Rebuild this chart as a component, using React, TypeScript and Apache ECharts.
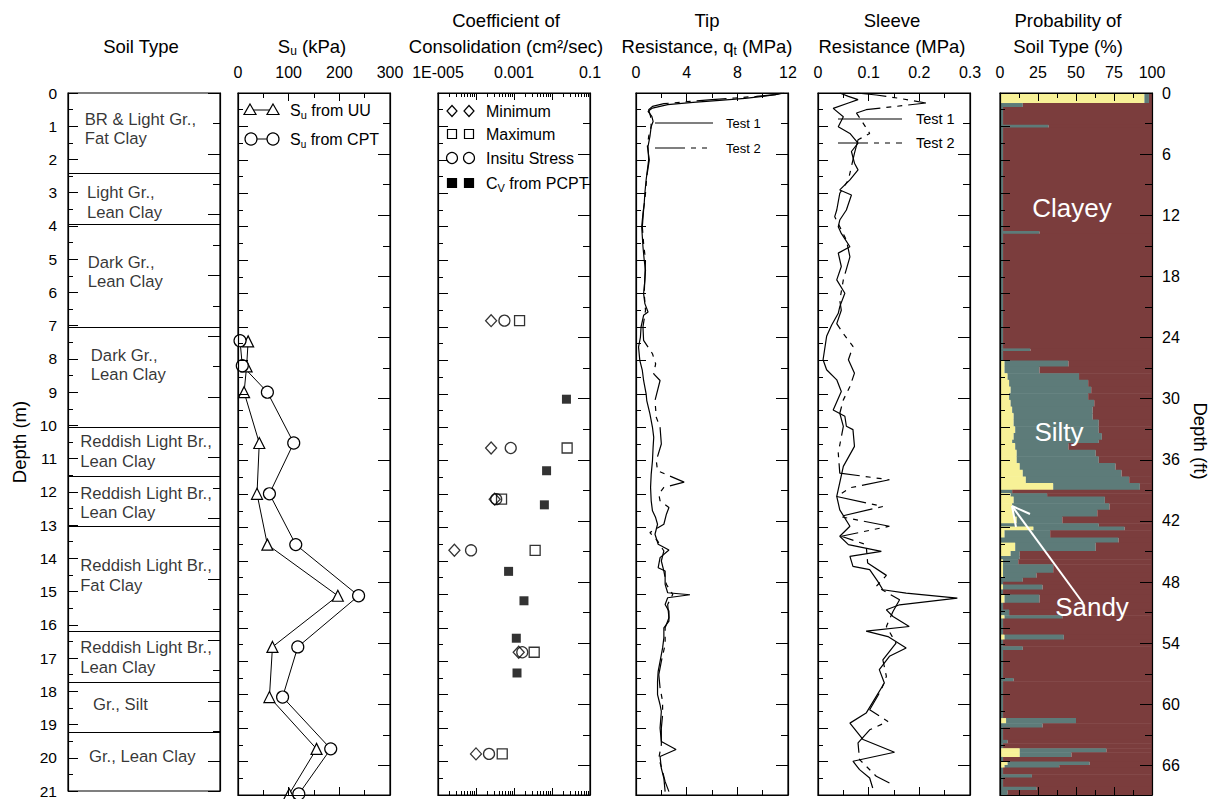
import React, { useEffect, useRef } from 'react';
import * as echarts from 'echarts';

const FONT = '"Liberation Sans", Arial, Helvetica, sans-serif';

// ---------- Soil type column ----------
const soilBoundaries = [2.4, 3.95, 7.04, 10.06, 11.54, 13.04, 16.2, 17.73, 19.24];
const soilNames = [
  'BR & Light Gr.,\nFat Clay',
  'Light Gr.,\nLean Clay',
  'Dark Gr.,\nLean Clay',
  'Dark Gr.,\nLean Clay',
  'Reddish Light Br.,\nLean Clay',
  'Reddish Light Br.,\nLean Clay',
  'Reddish Light Br.,\nFat Clay',
  'Reddish Light Br.,\nLean Clay',
  'Gr., Silt',
  'Gr., Lean Clay',
];
const soilNameDepths = [1.08, 3.29, 5.38, 8.18, 10.78, 12.34, 14.51, 16.98, 18.4, 19.95];
const soilNameX = [0.11, 0.125, 0.13, 0.15, 0.08, 0.08, 0.08, 0.08, 0.165, 0.138];

// ---------- Undrained shear strength (kPa) ----------
const suUUDepth = [7.43, 8.18, 8.95, 10.47, 11.99, 13.51, 15.04, 16.57, 18.07, 19.62, 20.97];
const suUU = [20, 17, 12, 42, 37.5, 58, 197, 68, 62, 155, 101];
const suCPTDepth = [7.41, 8.16, 8.95, 10.47, 11.99, 13.51, 15.04, 16.57, 18.07, 19.62, 20.97];
const suCPT = [4, 8.5, 58, 110, 62, 114, 238, 118, 88, 183, 120];

// ---------- Coefficient of consolidation (cm2/sec) ----------
const cvLabDepth = [6.81, 10.62, 12.15, 13.68, 16.73, 19.77];
const cvMin = [2.5e-4, 2.5e-4, 3.1e-4, 2.7e-5, 1.33e-3, 1.0e-4];
const cvMax = [1.4e-3, 2.5e-2, 4.7e-4, 3.6e-3, 3.4e-3, 4.9e-4];
const cvInsitu = [5.6e-4, 8.2e-4, 3.4e-4, 7.4e-5, 1.65e-3, 2.2e-4];
const cvPcptDepth = [9.16, 11.3, 12.32, 14.31, 15.19, 16.31, 17.35];
const cvPcpt = [0.024, 7.2e-3, 6.3e-3, 7.2e-4, 1.83e-3, 1.15e-3, 1.2e-3];

// ---------- Tip resistance (MPa) [depth, qt] ----------
const tipTest1: number[][] = [
  [0, 11.5], [0.05, 11.0], [0.1, 10.0], [0.16, 8.6], [0.22, 6.6], [0.28, 4.5], [0.35, 2.5], [0.45, 1.3],
  [0.55, 0.95], [0.7, 1.25], [0.85, 1.35], [1.0, 1.2], [1.3, 1.1], [1.6, 0.95], [2.0, 1.0], [2.3, 0.9],
  [2.6, 0.8], [3.0, 0.7], [3.3, 0.65], [3.6, 0.55], [4.0, 0.45], [4.3, 0.5], [4.6, 0.55], [5.0, 0.65],
  [5.3, 0.75], [5.6, 0.7], [6.0, 0.6], [6.3, 0.7], [6.55, 0.95], [6.65, 0.6], [7.0, 0.4], [7.3, 0.35],
  [7.6, 0.2], [8.0, 0.3], [8.3, 0.5], [8.6, 0.6], [9.0, 0.8], [9.2, 0.85], [9.6, 1.1], [10.0, 1.3],
  [10.3, 1.4], [10.6, 1.35], [11.0, 1.3], [11.4, 1.2], [11.8, 1.15], [12.2, 1.2], [12.5, 1.3], [12.7, 1.55],
  [12.9, 1.7], [13.2, 1.5], [13.5, 1.75], [13.67, 2.6], [13.9, 1.9], [14.2, 1.75], [14.3, 2.3], [14.7, 2.3],
  [14.95, 2.5], [15.01, 4.26], [15.1, 2.5], [15.3, 2.3], [15.5, 2.6], [15.8, 2.6], [16.0, 2.2], [16.3, 2.2],
  [16.6, 2.1], [17.0, 1.9], [17.3, 1.75], [17.6, 1.7], [18.0, 1.7], [18.3, 1.9], [18.5, 2.0], [19.0, 1.9],
  [19.4, 2.0], [19.64, 3.16], [19.85, 1.9], [20.2, 2.0], [20.5, 2.2], [20.9, 2.3],
];
const tipTest2: number[][] = [
  [0, 11.7], [0.05, 11.0], [0.1, 9.5], [0.15, 7.8], [0.2, 6.0], [0.26, 4.0], [0.32, 2.2], [0.4, 1.3],
  [0.5, 1.0], [0.7, 1.15], [1.0, 1.2], [1.3, 1.0], [1.6, 0.9], [2.0, 1.05], [2.5, 0.85], [3.0, 0.75],
  [3.5, 0.6], [4.0, 0.5], [4.5, 0.6], [5.0, 0.75], [5.5, 0.7], [6.0, 0.65], [6.5, 0.75], [7.0, 0.55],
  [7.4, 0.6], [7.8, 1.3], [8.1, 1.55], [8.4, 1.4], [8.6, 1.9], [9.2, 1.5], [9.7, 1.6], [10.0, 1.9],
  [10.5, 2.0], [11.0, 1.6], [11.3, 1.7], [11.64, 3.8], [11.8, 2.2], [12.0, 1.8], [12.2, 1.9], [12.4, 2.6],
  [12.6, 2.4], [12.9, 2.2], [13.15, 1.1], [13.4, 1.7], [13.7, 2.2], [14.0, 2.0], [14.3, 2.2], [14.7, 2.4],
  [15.0, 2.9], [15.3, 2.5], [15.7, 2.6], [16.0, 2.3], [16.5, 2.3], [17.0, 2.0], [17.4, 1.8], [17.8, 1.9],
  [18.2, 2.1], [18.6, 2.1], [19.0, 2.0], [19.5, 2.0], [19.9, 1.8], [20.3, 2.1], [20.6, 2.3], [20.9, 2.6],
];

// ---------- Sleeve resistance (MPa) [depth, fs] ----------
const sleeveTest1: number[][] = [
  [0.0, 0.043], [0.1, 0.06], [0.2, 0.079], [0.3, 0.06], [0.46, 0.03], [0.71, 0.05], [1.01, 0.04], [1.21, 0.063],
  [1.5, 0.079], [1.75, 0.066], [2.1, 0.072], [2.3, 0.079], [2.6, 0.063], [2.9, 0.043], [3.05, 0.066], [3.5, 0.056],
  [3.8, 0.043], [4.0, 0.04], [4.2, 0.046], [4.6, 0.063], [4.79, 0.04], [5.19, 0.046], [5.59, 0.037], [5.99, 0.053],
  [6.39, 0.043], [6.59, 0.04], [6.94, 0.027], [7.28, 0.017], [7.98, 0.01], [8.28, 0.017], [8.58, 0.037], [8.93, 0.046],
  [9.48, 0.03], [9.67, 0.053], [9.97, 0.056], [10.07, 0.069], [10.57, 0.072], [11.17, 0.05], [12.07, 0.037], [12.47, 0.043],
  [12.96, 0.063], [13.26, 0.043], [13.51, 0.06], [13.71, 0.125], [13.86, 0.063], [14.16, 0.069], [14.26, 0.102], [14.61, 0.118],
  [14.86, 0.128], [14.96, 0.174], [15.11, 0.275], [15.31, 0.161], [15.46, 0.135], [15.66, 0.148], [15.96, 0.18], [16.1, 0.095],
  [16.26, 0.138], [16.6, 0.174], [16.85, 0.141], [17.25, 0.121], [17.65, 0.131], [18.05, 0.115], [18.55, 0.095], [18.85, 0.063],
  [19.34, 0.089], [19.72, 0.151], [19.99, 0.069], [20.24, 0.082], [20.49, 0.102], [20.79, 0.108],
];
const sleeveTest2: number[][] = [
  [0.0, 0.076], [0.06, 0.115], [0.16, 0.161], [0.3, 0.213], [0.5, 0.095], [0.6, 0.076], [0.9, 0.089], [1.21, 0.102],
  [1.4, 0.079], [1.8, 0.072], [2.2, 0.066], [2.6, 0.06], [3.0, 0.043], [3.5, 0.037], [3.7, 0.033], [4.0, 0.043],
  [4.4, 0.056], [4.9, 0.063], [5.59, 0.05], [6.2, 0.043], [6.5, 0.046], [6.9, 0.037], [7.2, 0.05], [7.58, 0.069],
  [7.98, 0.06], [8.38, 0.072], [8.78, 0.063], [9.18, 0.05], [9.58, 0.043], [9.97, 0.05], [10.77, 0.04], [11.37, 0.043],
  [11.57, 0.141], [11.81, 0.063], [12.07, 0.037], [12.37, 0.128], [12.67, 0.043], [12.96, 0.141], [13.26, 0.046], [13.51, 0.095],
  [14.06, 0.098], [14.43, 0.135], [14.76, 0.115], [15.16, 0.161], [15.51, 0.148], [15.96, 0.135], [16.46, 0.154], [16.96, 0.128],
  [17.45, 0.135], [17.85, 0.125], [18.45, 0.102], [18.8, 0.138], [19.05, 0.102], [19.44, 0.079], [19.94, 0.082], [20.44, 0.115],
  [20.64, 0.141],
];

// ---------- Probability of soil type (%) : row bottom depth, sandy, silty (clayey = rest) ----------
const probBottom = [
  0.3, 0.42, 0.95, 1.03, 4.13, 4.21, 7.64, 7.72, 8.0, 8.18, 8.38, 8.58, 8.78, 8.98, 9.18, 9.38, 9.57, 9.77, 9.97, 10.17,
  10.37, 10.47, 10.67, 10.87, 11.07, 11.27, 11.47, 11.67, 11.87, 11.97, 12.07, 12.27, 12.47, 12.67, 12.87, 12.97, 13.08, 13.3, 13.45, 13.7,
  13.85, 13.95, 14.1, 14.35, 14.5, 14.62, 14.7, 14.85, 15.0, 15.25, 15.45, 15.62, 15.72, 16.2, 16.35, 16.55, 16.66, 17.5, 17.6, 18.7,
  18.85, 18.98, 19.35, 19.45, 19.6, 19.72, 19.86, 20.0, 20.1, 20.18, 20.38, 20.48, 20.75, 20.85, 21.0,
];
const probSandy = [
  95, 0, 0, 0, 0, 0, 0, 0, 0, 3, 3, 5, 6, 7, 6, 7, 8, 9, 9, 10,
  9, 8, 10, 11, 11, 13, 15, 17, 35, 0, 7, 9, 8, 9, 11, 0, 22, 3, 0, 10,
  7, 0, 2, 2, 2, 0, 0, 2, 0, 3, 0, 0, 3, 0, 3, 0, 0, 0, 0, 0,
  4, 0, 0, 0, 0, 13, 13, 0, 5, 3, 0, 0, 0, 0, 0,
];
const probSilty = [
  3, 15, 2, 32, 2, 26, 2, 20, 2, 42, 23, 47, 52, 53, 52, 55, 53, 52, 56, 55,
  58, 57, 35, 52, 54, 63, 65, 68, 57, 8, 24, 60, 64, 55, 30, 65, 60, 30, 78, 53,
  6, 13, 10, 33, 22, 15, 2, 26, 2, 23, 2, 6, 38, 2, 39, 2, 15, 2, 9, 2,
  46, 28, 2, 5, 2, 57, 34, 2, 54, 36, 2, 21, 2, 24, 5,
];

// ---------- Axis ranges ----------
const depthMax = 21;
const ftMax = 21 / 0.3048;

const SAND = '#f7f197';
const SILT = '#5d7b79';
const CLAY = '#7b3d3d';

const LEFTS = [68, 238, 438, 636, 818, 1000];
const GW = 152;
const GTOP = 93;
const GH = 702;

const TICK_FONT = 16;
const TITLE_FONT = 18.5;

function linX(g: number, min: number, max: number, interval: number, pos: string, labels: boolean) {
  return {
    gridIndex: g, type: 'value', min, max, interval, position: pos, z: 10,
    axisLine: { show: true, onZero: false, lineStyle: { color: '#000', width: 1.2 } },
    axisTick: { show: true, inside: true, length: 8, lineStyle: { color: '#000', width: 1 } },
    minorTick: { show: true, splitNumber: 2, length: 5, lineStyle: { color: '#000', width: 1 } },
    splitLine: { show: false },
    axisLabel: { show: labels, fontSize: TICK_FONT, color: '#000', fontFamily: FONT, margin: 13 },
  };
}
function logX(g: number, pos: string, labels: boolean) {
  return {
    gridIndex: g, type: 'log', logBase: 10, min: 1e-5, max: 0.1, position: pos, z: 10,
    axisLine: { show: true, onZero: false, lineStyle: { color: '#000', width: 1.2 } },
    axisTick: { show: true, inside: true, length: 7, lineStyle: { color: '#000', width: 1 } },
    minorTick: { show: true, splitNumber: 9, length: 4, lineStyle: { color: '#000', width: 1 } },
    splitLine: { show: false },
    axisLabel: {
      show: labels, fontSize: TICK_FONT, color: '#000', fontFamily: FONT, margin: 13,
      formatter: (v: number) => {
        const e = Math.round(Math.log10(v));
        return e === -5 ? '1E-005' : e === -3 ? '0.001' : e === -1 ? '0.1' : '';
      },
    },
  };
}
function depthY(g: number, labels: boolean) {
  return {
    gridIndex: g, type: 'value', min: 0, max: depthMax, interval: 1, inverse: true, position: 'left', z: 10,
    axisLine: { show: true, onZero: false, lineStyle: { color: '#000', width: 1.2 } },
    axisTick: { show: true, inside: true, length: 10, lineStyle: { color: '#000', width: 1 } },
    minorTick: { show: true, splitNumber: 2, length: 5, lineStyle: { color: '#000', width: 1 } },
    splitLine: { show: false },
    axisLabel: { show: labels, fontSize: 15.5, color: '#000', fontFamily: FONT, margin: 11 },
  };
}
function feetY(g: number, labels: boolean) {
  return {
    gridIndex: g, type: 'value', min: 0, max: ftMax, interval: 6, inverse: true, position: 'right', z: 10,
    axisLine: { show: true, onZero: false, lineStyle: { color: '#000', width: 1.2 } },
    axisTick: { show: true, inside: true, length: 12, lineStyle: { color: '#000', width: 1 } },
    minorTick: { show: true, splitNumber: 2, length: 7, lineStyle: { color: '#000', width: 1 } },
    splitLine: { show: false },
    axisLabel: {
      show: labels, fontSize: 16, color: '#000', fontFamily: FONT, margin: 10,
      formatter: (v: number) => (Math.abs(v - Math.round(v)) < 1e-6 && Math.round(v) % 6 === 0 ? String(Math.round(v)) : ''),
    },
  };
}

const txt = (x: number, y: number, text: string, size: number, extra: any = {}) => ({
  type: 'text', x, y, z: 100,
  style: { text, fontSize: size, fontFamily: FONT, fill: '#000', align: 'center', verticalAlign: 'middle', ...extra },
});
const richTxt = (x: number, y: number, text: string, size: number, sub: number, align = 'center', fill = '#000') => ({
  type: 'text', x, y, z: 100,
  style: {
    text, align, verticalAlign: 'middle', fill,
    rich: {
      a: { fontSize: size, fontFamily: FONT, fill, lineHeight: size + 4, verticalAlign: 'middle' },
      b: { fontSize: sub, fontFamily: FONT, fill, lineHeight: sub, verticalAlign: 'bottom' },
    },
  },
});
const diamond = (x: number, y: number, fill = 'none') => ({
  type: 'polygon', z: 100, shape: { points: [[x, y - 5.5], [x + 5, y], [x, y + 5.5], [x - 5, y]] },
  style: { fill, stroke: '#000', lineWidth: 1.2 },
});
const square = (x: number, y: number, fill = 'none') => ({
  type: 'rect', z: 100, shape: { x: x - 4.5, y: y - 4.5, width: 9, height: 9 },
  style: { fill, stroke: '#000', lineWidth: 1.2 },
});
const circ = (x: number, y: number, r = 5.5, fill = 'none') => ({
  type: 'circle', z: 100, shape: { cx: x, cy: y, r }, style: { fill, stroke: '#000', lineWidth: 1.2 },
});
const tri = (x: number, y: number) => ({
  type: 'polygon', z: 100, shape: { points: [[x, y - 6], [x + 6, y + 4.5], [x - 6, y + 4.5]] },
  style: { fill: '#fff', stroke: '#000', lineWidth: 1.2 },
});
const seg = (x1: number, y1: number, x2: number, y2: number, extra: any = {}) => ({
  type: 'line', z: 99, shape: { x1, y1, x2, y2 }, style: { stroke: '#000', lineWidth: 1.2, ...extra },
});

const DASH2 = [30, 6, 5, 6, 5, 6];

function buildOption() {
  const grids = LEFTS.map((l) => ({
    left: l, top: GTOP, width: GW, height: GH, show: true, borderColor: '#000', borderWidth: 1.2,
    backgroundColor: 'transparent',
  }));

  // xAxis indices: 0 soil | 1,2 Su | 3,4 Cv | 5,6 tip | 7,8 sleeve | 9,10 prob
  const xAxis: any[] = [
    { gridIndex: 0, type: 'value', min: 0, max: 1, show: false },
    linX(1, 0, 300, 100, 'top', true), linX(1, 0, 300, 100, 'bottom', false),
    logX(2, 'top', true), logX(2, 'bottom', false),
    linX(3, 0, 12, 4, 'top', true), linX(3, 0, 12, 4, 'bottom', false),
    linX(4, 0, 0.3, 0.1, 'top', true), linX(4, 0, 0.3, 0.1, 'bottom', false),
    linX(5, 0, 100, 25, 'top', true), linX(5, 0, 100, 25, 'bottom', false),
  ];
  // yAxis indices: grid g -> 2g (depth m, left), 2g+1 (depth ft, right)
  const yAxis: any[] = [];
  for (let g = 0; g < 6; g++) {
    yAxis.push(depthY(g, g === 0));
    yAxis.push(feetY(g, g === 5));
  }

  const probData = probBottom.map((b, i) => [i === 0 ? 0 : probBottom[i - 1], b, probSandy[i], probSilty[i]]);

  const series: any[] = [
    {
      type: 'scatter', xAxisIndex: 0, yAxisIndex: 0, symbolSize: 0, silent: true,
      data: soilNames.map((n, i) => ({ name: n, value: [soilNameX[i], soilNameDepths[i]] })),
      label: {
        show: true, position: 'right', distance: 0, formatter: '{b}', fontSize: 16.7, lineHeight: 19.5,
        color: '#000', fontFamily: FONT, align: 'left',
      },
      markLine: {
        silent: true, symbol: ['none', 'none'], label: { show: false },
        lineStyle: { color: '#000', type: 'solid', width: 1.2 },
        data: soilBoundaries.map((d) => ({ yAxis: d })),
      },
    },
    {
      type: 'line', xAxisIndex: 1, yAxisIndex: 2, symbol: 'triangle', symbolSize: 11,
      data: suUU.map((v, i) => [v, suUUDepth[i]]),
      itemStyle: { color: '#fff', borderColor: '#000', borderWidth: 1.2 },
      lineStyle: { color: '#000', width: 1 }, z: 3,
    },
    {
      type: 'line', xAxisIndex: 1, yAxisIndex: 2, symbol: 'circle', symbolSize: 12,
      data: suCPT.map((v, i) => [v, suCPTDepth[i]]),
      itemStyle: { color: '#fff', borderColor: '#000', borderWidth: 1.2 },
      lineStyle: { color: '#000', width: 1 }, z: 3,
    },
    {
      type: 'scatter', xAxisIndex: 3, yAxisIndex: 4, symbol: 'rect', symbolSize: 10,
      data: cvMax.map((v, i) => [v, cvLabDepth[i]]),
      itemStyle: { color: 'rgba(0,0,0,0)', borderColor: '#000', borderWidth: 1.3 },
    },
    {
      type: 'scatter', xAxisIndex: 3, yAxisIndex: 4, symbol: 'diamond', symbolSize: [11, 12],
      data: cvMin.map((v, i) => [v, cvLabDepth[i]]),
      itemStyle: { color: 'rgba(0,0,0,0)', borderColor: '#000', borderWidth: 1.3 },
    },
    {
      type: 'scatter', xAxisIndex: 3, yAxisIndex: 4, symbol: 'circle', symbolSize: 11,
      data: cvInsitu.map((v, i) => [v, cvLabDepth[i]]),
      itemStyle: { color: 'rgba(0,0,0,0)', borderColor: '#000', borderWidth: 1.3 },
    },
    {
      type: 'scatter', xAxisIndex: 3, yAxisIndex: 4, symbol: 'rect', symbolSize: 9,
      data: cvPcpt.map((v, i) => [v, cvPcptDepth[i]]),
      itemStyle: { color: '#000' },
    },
    {
      type: 'line', xAxisIndex: 5, yAxisIndex: 6, showSymbol: false, symbol: 'none',
      data: tipTest1.map(([d, v]) => [v, d]), lineStyle: { color: '#000', width: 1.2 },
    },
    {
      type: 'line', xAxisIndex: 5, yAxisIndex: 6, showSymbol: false, symbol: 'none',
      data: tipTest2.map(([d, v]) => [v, d]), lineStyle: { color: '#000', width: 1.2, type: DASH2 },
    },
    {
      type: 'line', xAxisIndex: 7, yAxisIndex: 8, showSymbol: false, symbol: 'none',
      data: sleeveTest1.map(([d, v]) => [v, d]), lineStyle: { color: '#000', width: 1.2 },
    },
    {
      type: 'line', xAxisIndex: 7, yAxisIndex: 8, showSymbol: false, symbol: 'none',
      data: sleeveTest2.map(([d, v]) => [v, d]), lineStyle: { color: '#000', width: 1.2, type: DASH2 },
    },
    {
      type: 'custom', xAxisIndex: 9, yAxisIndex: 10, silent: true,
      encode: { x: [2, 3], y: [0, 1] },
      data: probData,
      renderItem: (_p: any, api: any) => {
        const top = api.value(0), bot = api.value(1), sand = api.value(2), silt = api.value(3);
        const p0 = api.coord([0, top]);
        const pS = api.coord([sand, bot]);
        const pT = api.coord([sand + silt, bot]);
        const pE = api.coord([100, bot]);
        const y = p0[1];
        const h = pS[1] - p0[1] + 0.5;
        return {
          type: 'group',
          children: [
            { type: 'rect', shape: { x: p0[0], y, width: pS[0] - p0[0], height: h }, style: { fill: SAND } },
            { type: 'rect', shape: { x: pS[0], y, width: pT[0] - pS[0], height: h }, style: { fill: SILT } },
            { type: 'rect', shape: { x: pT[0], y, width: pE[0] - pT[0], height: h }, style: { fill: CLAY } },
          ],
        };
      },
    },
  ];

  const graphic: any[] = [
    // titles
    txt(141, 46, 'Soil Type', TITLE_FONT),
    richTxt(312, 46, '{a|S}{b|u}{a| (kPa)}', TITLE_FONT, 12),
    txt(506, 20, 'Coefficient of', TITLE_FONT),
    txt(506, 46, 'Consolidation (cm²/sec)', TITLE_FONT),
    txt(707, 20, 'Tip', TITLE_FONT),
    richTxt(707, 46, '{a|Resistance, q}{b|t}{a| (MPa)}', TITLE_FONT, 12),
    txt(892, 20, 'Sleeve', TITLE_FONT),
    txt(892, 46, 'Resistance (MPa)', TITLE_FONT),
    txt(1068, 20, 'Probability of', TITLE_FONT),
    txt(1068, 46, 'Soil Type (%)', TITLE_FONT),
    // axis names
    { ...txt(19, 442, 'Depth (m)', 18.5), rotation: Math.PI / 2 },
    { ...txt(1200, 441, 'Depth (ft)', 18.5), rotation: -Math.PI / 2 },
    // Su legend
    seg(250, 110, 273, 110, { lineWidth: 1 }), tri(250, 110), tri(273, 110),
    richTxt(290, 110, '{a|S}{b|u}{a| from UU}', 16, 11, 'left'),
    seg(251, 139, 273, 139, { lineWidth: 1 }), circ(251, 139, 6, '#fff'), circ(273, 139, 6, '#fff'),
    richTxt(290, 139, '{a|S}{b|u}{a| from CPT}', 16, 10, 'left'),
    // Cv legend
    diamond(452, 111), diamond(469, 111), txt(486, 111, 'Minimum', 16, { align: 'left' }),
    square(452, 134), square(469, 134), txt(486, 134, 'Maximum', 16, { align: 'left' }),
    circ(452, 158, 5.5), circ(469, 158, 5.5), txt(486, 158, 'Insitu Stress', 16, { align: 'left' }),
    square(452, 183, '#000'), square(469, 183, '#000'),
    richTxt(486, 183, '{a|C}{b|V}{a| from PCPT}', 16, 11, 'left'),
    // Tip legend
    seg(655, 123, 713, 123), txt(726, 123, 'Test 1', 13, { align: 'left' }),
    seg(655, 148, 713, 148, { lineDash: DASH2 }), txt(726, 148, 'Test 2', 13, { align: 'left' }),
    // Sleeve legend
    seg(838, 119, 902, 119), txt(916, 119, 'Test 1', 14.5, { align: 'left' }),
    seg(838, 143, 902, 143, { lineDash: DASH2 }), txt(916, 143, 'Test 2', 14.5, { align: 'left' }),
    // Probability labels
    txt(1072, 208, 'Clayey', 26, { fill: '#fff' }),
    txt(1059, 432, 'Silty', 26, { fill: '#fff' }),
    txt(1092, 607, 'Sandy', 26, { fill: '#fff' }),
    seg(1083, 603, 1012, 506, { stroke: '#fff', lineWidth: 2 }),
    seg(1012, 506, 1030, 514, { stroke: '#fff', lineWidth: 2 }),
    seg(1012, 506, 1016, 527, { stroke: '#fff', lineWidth: 2 }),
  ];

  return {
    animation: false,
    backgroundColor: '#fff',
    textStyle: { fontFamily: FONT },
    grid: grids,
    xAxis,
    yAxis,
    series,
    graphic: { elements: graphic },
  };
}

export default function App() {
  const ref = useRef<HTMLDivElement>(null);
  useEffect(() => {
    document.body.style.margin = '0';
    document.body.style.overflow = 'hidden';
    const chart = echarts.init(ref.current!, null, { renderer: 'svg' });
    chart.setOption(buildOption() as any);
    return () => chart.dispose();
  }, []);
  return <div ref={ref} style={{ width: 1219, height: 799, background: '#fff' }} />;
}
